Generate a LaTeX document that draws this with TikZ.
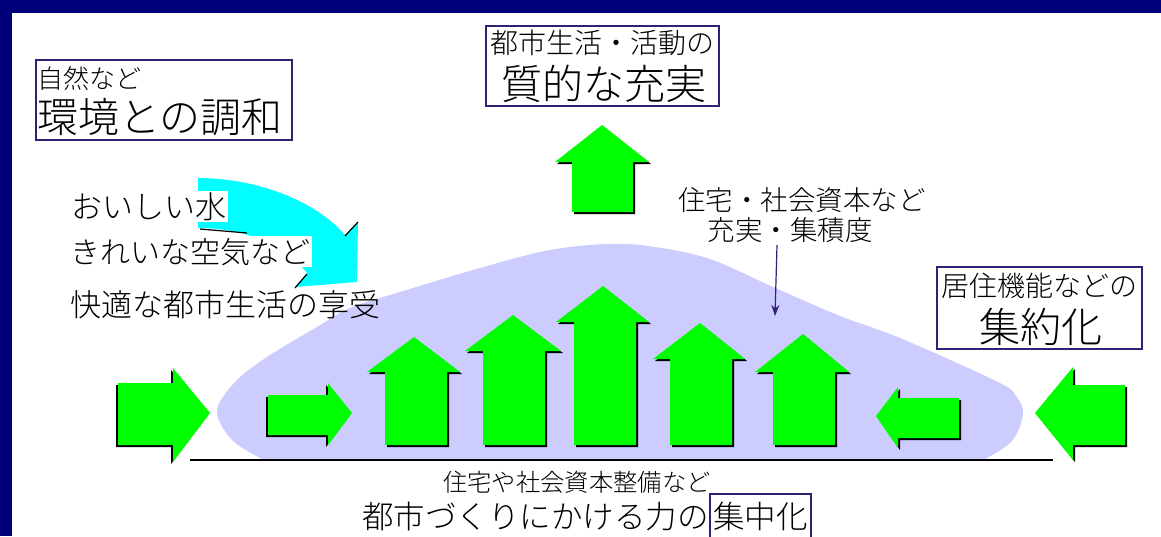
\documentclass[tikz,border=0pt]{standalone}
\usepackage{fontspec}
\newfontfamily\jp{Noto Sans CJK JP Light}
\usetikzlibrary{arrows.meta}
\definecolor{navyf}{RGB}{0,0,122}
\definecolor{boxc}{RGB}{45,35,115}
\definecolor{garr}{RGB}{0,255,0}
\definecolor{cyanarr}{RGB}{0,255,255}
\definecolor{lav}{RGB}{204,204,255}
% up arrow: shaft left, shaft right, head left, head right, apex x, apex y, head base y, bottom y
\newcommand\garrowup[8]{%
  \fill[black,shift={(2,2)}] (#1,#8) -- (#1,#7) -- (#3,#7) -- (#5,#6) -- (#4,#7) -- (#2,#7) -- (#2,#8) -- cycle;
  \fill[garr] (#1,#8) -- (#1,#7) -- (#3,#7) -- (#5,#6) -- (#4,#7) -- (#2,#7) -- (#2,#8) -- cycle;}
% horizontal arrow: tail x, shaft top, shaft bottom, head base x, head top, head bottom, tip x, tip y, shadow dx
\newcommand\garrowh[9]{%
  \fill[black,shift={(#9,2)}] (#1,#2) -- (#4,#2) -- (#4,#5) -- (#7,#8) -- (#4,#6) -- (#4,#3) -- (#1,#3) -- cycle;
  \fill[garr] (#1,#2) -- (#4,#2) -- (#4,#5) -- (#7,#8) -- (#4,#6) -- (#4,#3) -- (#1,#3) -- cycle;}
\begin{document}
\begin{tikzpicture}[x=1pt,y=-1pt,
  boxst/.style={draw=boxc, line width=1.5pt, inner sep=0pt},
  jtxt/.style={inner sep=0pt, font=\jp\fontsize{#1}{#1}\selectfont},
  wbg/.style={fill=white, inner sep=1.5pt}]
\useasboundingbox (0,0) rectangle (1161,536);
% frame
\fill[navyf] (0,0) rectangle (1161,536);
\fill[white] (12,13) rectangle (1161,536);
% mound
\fill[lav] plot[smooth, tension=0.55] coordinates {(985,459) (1012,441) (1023,414) (1016,396) (998,382) (900,338) (840,316) (773,287) (707,258) (640,245) (590,245) (540,252) (473,270) (400,292) (350,308) (317,327) (267,357) (235,382) (217,411) (232,440) (262,459)} -- cycle;
% cyan curved arrow
\fill[cyanarr] (198,178) .. controls (255,178) and (315,200) .. (345,235) -- (358,222) -- (357,282) -- (295,287) -- (307,273) .. controls (285,245) and (245,228) .. (198,228) -- cycle;
% boxes
\node[boxst, minimum width=256pt, minimum height=80pt] (box1) at (164,100) {};
\node[boxst, minimum width=233pt, minimum height=80pt] (box2) at (602.5,66) {};
\node[boxst, minimum width=205pt, minimum height=82pt] (box3) at (1039.5,308) {};
% box texts
\node[jtxt=26, anchor=base west] (n1a) at (37,88) {自然など};
\node[jtxt=41, anchor=base west] (n1b) at (37,132) {環境との調和};
\node[jtxt=28, anchor=base] (n2a) at (602,53) {都市生活・活動の};
\node[jtxt=41, anchor=base] (n2b) at (604,99) {質的な充実};
\node[jtxt=28, anchor=base] (n3a) at (1039,296) {居住機能などの};
\node[jtxt=41, anchor=base] (n3b) at (1041,342) {集約化};
% left texts
\node[jtxt=31, wbg, anchor=base west] (c1) at (69.5,218) {おいしい水};
\node[jtxt=30, wbg, anchor=base west] (c2) at (68.5,263) {きれいな空気など};
\node[jtxt=31, anchor=base west] (c3) at (70,316) {快適な都市生活の享受};
\draw[black, line width=1.2pt] (200,229) -- (247,233);
\draw[black, line width=1.2pt] (345,236) -- (358,222);
\draw[black, line width=1.2pt] (295,288) -- (307,274);
% middle texts
\node[jtxt=27.5, anchor=base] (m1) at (802,210) {住宅・社会資本など};
\node[jtxt=27.5, anchor=base] (m2) at (790,240) {充実・集積度};
% green arrows
\garrowup{572}{633}{555}{649}{602}{125}{162}{212}
\garrowup{385}{447}{367}{460}{414}{337}{372}{445}
\garrowup{483}{545}{465}{561}{513}{315}{351}{445}
\garrowup{574}{636}{556}{649}{603}{286}{322}{445}
\garrowup{670}{732}{653}{745}{700}{323}{359}{445}
\garrowup{773}{835}{755}{849}{803}{334}{372}{445}
\garrowh{118}{383}{445}{173}{368}{462}{210}{413}{-2}
\garrowh{268}{395}{435}{328}{383}{445}{352}{413}{-2}
\garrowh{1125}{385}{445}{1073}{367}{460}{1035}{413}{2}
\garrowh{959}{398}{438}{898}{387}{448}{876}{416}{2}
% ground line
\coordinate (g1) at (190,460);
\coordinate (g2) at (1053,460);
\draw[black, line width=2pt] (g1) -- (g2);
% pointer
\coordinate (p1) at (777,245);
\coordinate (p2) at (775,316);
\draw[boxc, line width=1.2pt, -{Stealth[length=11pt,width=8pt]}] (p1) -- (p2);
% bottom texts
\node[jtxt=24.3, anchor=base] (b1) at (577,491) {住宅や社会資本整備など};
\node[jtxt=31.5, anchor=base east] (b2) at (709,528) {都市づくりにかける力の};
\node[jtxt=31.5, anchor=base west, draw=boxc, line width=1.5pt, inner xsep=3.25pt, inner ysep=0pt, text height=34pt, text depth=14pt] (b3) at (709,528) {集中化};
\end{tikzpicture}
\end{document}
